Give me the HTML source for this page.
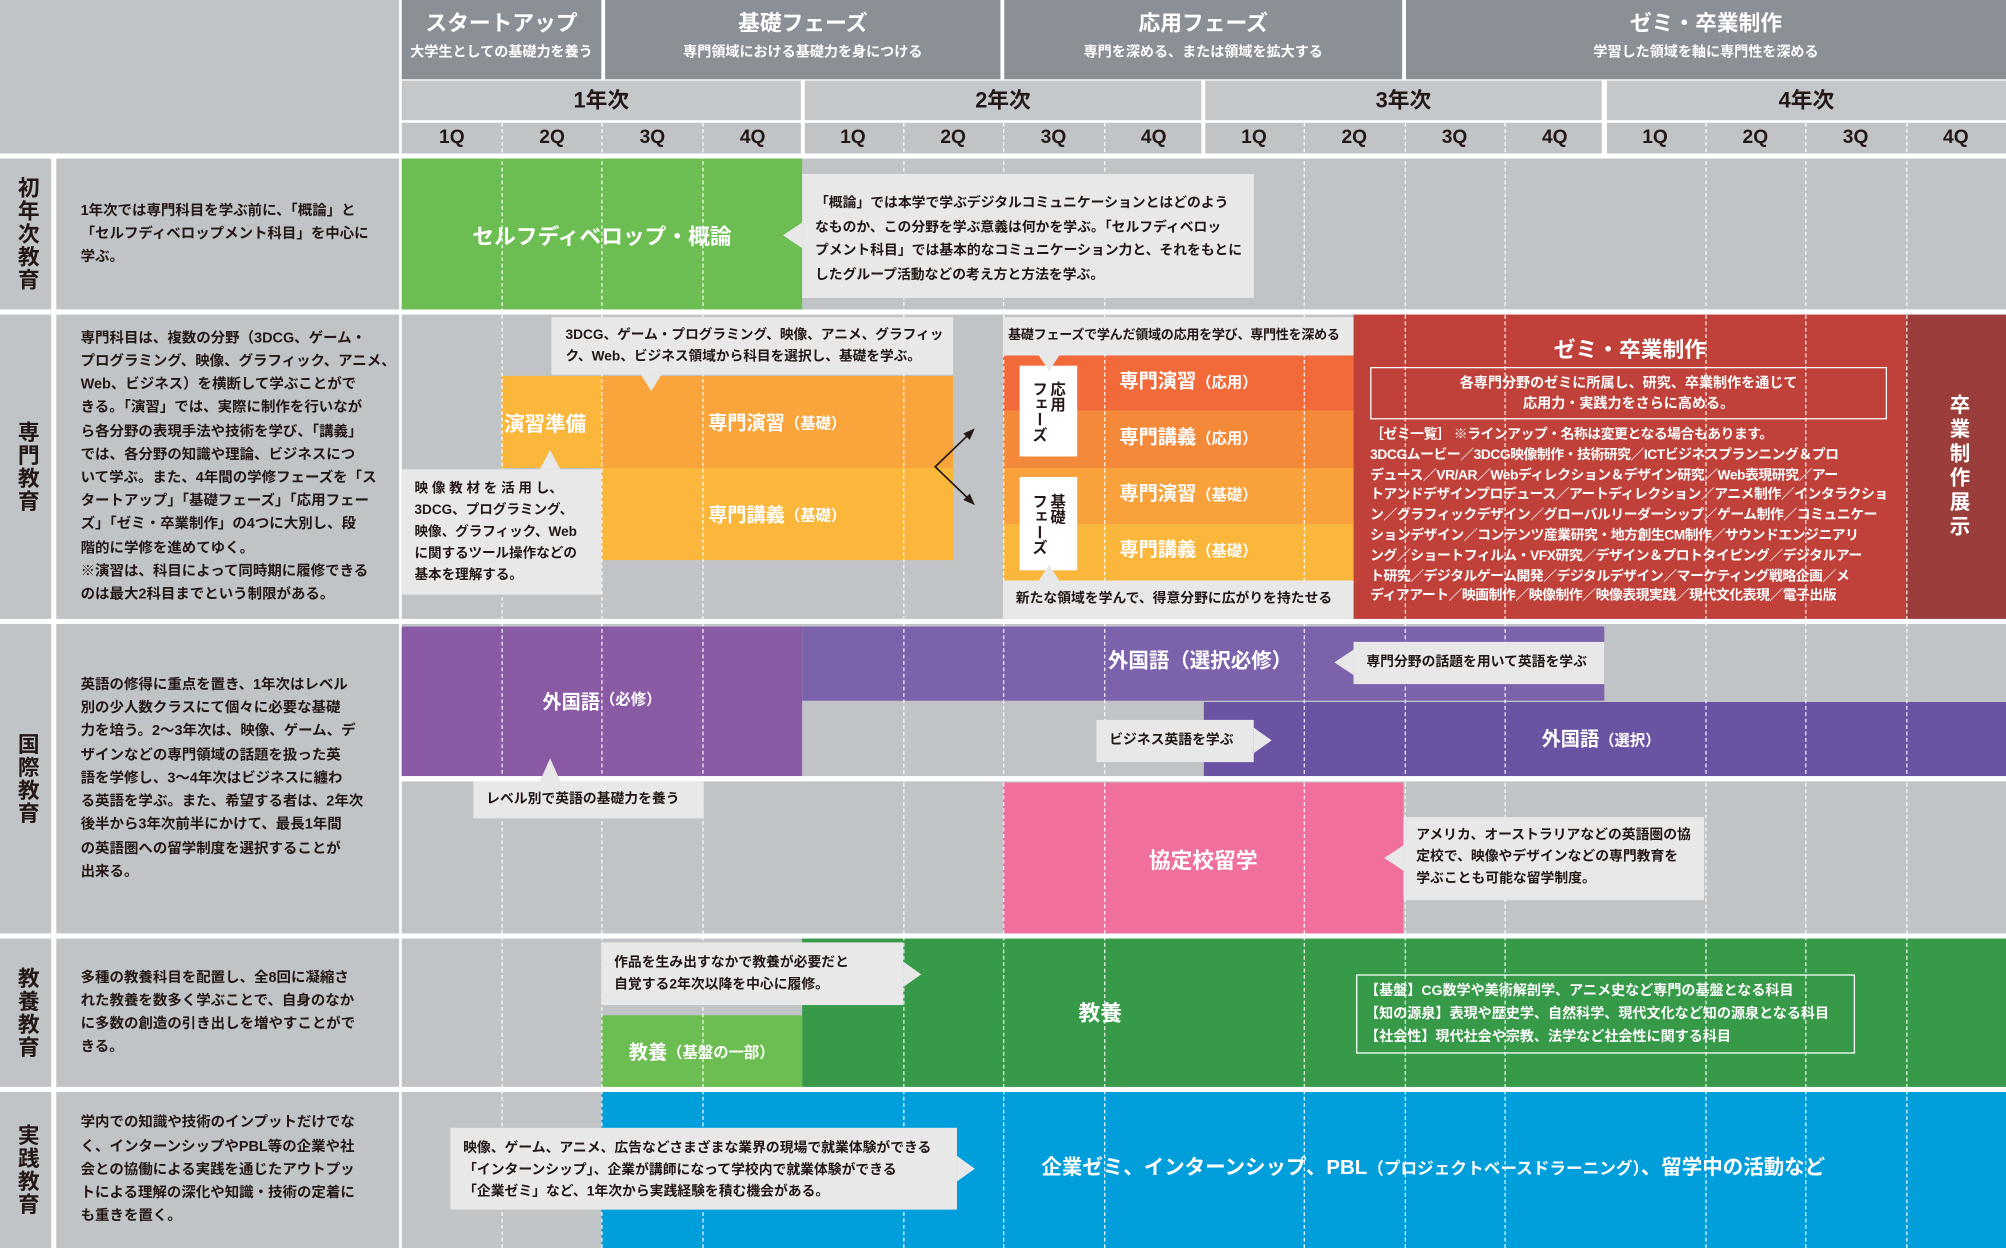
<!DOCTYPE html>
<html><head><meta charset="utf-8"><style>
*{margin:0;padding:0;box-sizing:border-box}
body{width:2006px;height:1248px;overflow:hidden;background:#fff;font-family:"Liberation Sans","Noto Sans CJK JP",sans-serif;font-weight:bold}
#w{position:absolute;left:0;top:0;width:1568px;height:976px;transform:scale(1.27934,1.27869);transform-origin:0 0;background:#fff}
.b{position:absolute}
.g{background:#c1c4c7}
.h{background:#8a9096;color:#fff;text-align:center}
.h .t{font-size:17px;margin-top:8px;line-height:22px}
.h .s{font-size:11px;margin-top:2px}
.yr{background:#c5c8cb;text-align:center;font-size:17px;line-height:31px;color:#231815}
.q{background:#c1c4c7;text-align:center;font-size:15px;line-height:25px;color:#231815}
.lab{background:#c1c4c7;color:#231815;font-size:17px;line-height:20px;letter-spacing:1px;text-align:center;display:flex;align-items:center;justify-content:center;writing-mode:vertical-rl}
.desc{background:#c1c4c7;color:#231815;font-size:11.3px;line-height:18.2px;padding-left:19px;display:flex;align-items:center;white-space:nowrap}
.dl{position:absolute;top:96px;height:880px;width:0;border-left:1px dashed rgba(255,255,255,.9)}
.c{position:absolute;background:#e8e8e8;color:#231815;font-size:11px;line-height:17px;white-space:nowrap}
.wt{color:#fff;display:flex;align-items:center;justify-content:center}
.tri{position:absolute;width:0;height:0}
</style></head><body><div id="w">
<!-- header -->
<div class="b g" style="left:0;top:0;width:312px;height:120px"></div>
<div class="b h" style="left:314px;top:0;width:156px;height:62px"><div class="t">スタートアップ</div><div class="s">大学生としての基礎力を養う</div></div>
<div class="b h" style="left:473px;top:0;width:309px;height:62px"><div class="t">基礎フェーズ</div><div class="s">専門領域における基礎力を身につける</div></div>
<div class="b h" style="left:785px;top:0;width:311px;height:62px"><div class="t">応用フェーズ</div><div class="s">専門を深める、または領域を拡大する</div></div>
<div class="b h" style="left:1099px;top:0;width:469px;height:62px"><div class="t">ゼミ・卒業制作</div><div class="s">学習した領域を軸に専門性を深める</div></div>
<div class="b yr" style="left:314px;top:63px;width:312px;height:31px">1年次</div>
<div class="b yr" style="left:629px;top:63px;width:310px;height:31px">2年次</div>
<div class="b yr" style="left:942px;top:63px;width:310px;height:31px">3年次</div>
<div class="b yr" style="left:1256px;top:63px;width:312px;height:31px">4年次</div>
<div class="b q" style="left:314px;top:96px;width:312px;height:24px"></div>
<div class="b q" style="left:629px;top:96px;width:310px;height:24px"></div>
<div class="b q" style="left:942px;top:96px;width:310px;height:24px"></div>
<div class="b q" style="left:1256px;top:96px;width:312px;height:24px"></div>
<div class="b" style="left:314px;top:96px;width:1254px;height:24px;font-size:15px;line-height:24px;color:#231815;display:flex">
<span style="width:78.4px;text-align:center">1Q</span><span style="width:78.4px;text-align:center">2Q</span><span style="width:78.4px;text-align:center">3Q</span><span style="width:78.4px;text-align:center">4Q</span>
<span style="width:78.4px;text-align:center">1Q</span><span style="width:78.4px;text-align:center">2Q</span><span style="width:78.4px;text-align:center">3Q</span><span style="width:78.4px;text-align:center">4Q</span>
<span style="width:78.4px;text-align:center">1Q</span><span style="width:78.4px;text-align:center">2Q</span><span style="width:78.4px;text-align:center">3Q</span><span style="width:78.4px;text-align:center">4Q</span>
<span style="width:78.4px;text-align:center">1Q</span><span style="width:78.4px;text-align:center">2Q</span><span style="width:78.4px;text-align:center">3Q</span><span style="width:78.4px;text-align:center">4Q</span></div>

<!-- row labels & descriptions -->
<div class="b lab" style="left:0;top:124px;width:40px;height:118px">初年次教育</div>
<div class="b desc" style="left:44px;top:124px;width:268px;height:118px">1年次では専門科目を学ぶ前に、「概論」と<br>「セルフディベロップメント科目」を中心に<br>学ぶ。</div>
<div class="b lab" style="left:0;top:246px;width:40px;height:238px">専門教育</div>
<div class="b desc" style="left:44px;top:246px;width:268px;height:238px"><div>専門科目は、複数の分野（3DCG、ゲーム・<br>プログラミング、映像、グラフィック、アニメ、<br>Web、ビジネス）を横断して学ぶことがで<br>きる。「演習」では、実際に制作を行いなが<br>ら各分野の表現手法や技術を学び、「講義」<br>では、各分野の知識や理論、ビジネスにつ<br>いて学ぶ。また、4年間の学修フェーズを「ス<br>タートアップ」「基礎フェーズ」「応用フェー<br>ズ」「ゼミ・卒業制作」の4つに大別し、段<br>階的に学修を進めてゆく。<br>※演習は、科目によって同時期に履修できる<br>のは最大2科目までという制限がある。</div></div>
<div class="b lab" style="left:0;top:488px;width:40px;height:242px">国際教育</div>
<div class="b desc" style="left:44px;top:488px;width:268px;height:242px"><div>英語の修得に重点を置き、1年次はレベル<br>別の少人数クラスにて個々に必要な基礎<br>力を培う。2〜3年次は、映像、ゲーム、デ<br>ザインなどの専門領域の話題を扱った英<br>語を学修し、3〜4年次はビジネスに纏わ<br>る英語を学ぶ。また、希望する者は、2年次<br>後半から3年次前半にかけて、最長1年間<br>の英語圏への留学制度を選択することが<br>出来る。</div></div>
<div class="b lab" style="left:0;top:734px;width:40px;height:116px">教養教育</div>
<div class="b desc" style="left:44px;top:734px;width:268px;height:116px"><div>多種の教養科目を配置し、全8回に凝縮さ<br>れた教養を数多く学ぶことで、自身のなか<br>に多数の創造の引き出しを増やすことがで<br>きる。</div></div>
<div class="b lab" style="left:0;top:854px;width:40px;height:122px">実践教育</div>
<div class="b desc" style="left:44px;top:854px;width:268px;height:122px"><div>学内での知識や技術のインプットだけでな<br>く、インターンシップやPBL等の企業や社<br>会との協働による実践を通じたアウトプッ<br>トによる理解の深化や知識・技術の定着に<br>も重きを置く。</div></div>

<!-- grid backgrounds -->
<div class="b g" style="left:314px;top:124px;width:1254px;height:118px"></div>
<div class="b g" style="left:314px;top:246px;width:1254px;height:238px"></div>
<div class="b g" style="left:314px;top:488px;width:1254px;height:119px"></div>
<div class="b g" style="left:314px;top:611px;width:1254px;height:119px"></div>
<div class="b g" style="left:314px;top:734px;width:1254px;height:116px"></div>
<div class="b g" style="left:314px;top:854px;width:1254px;height:122px"></div>

<!-- row1 -->
<div class="b wt" style="left:314px;top:124px;width:313px;height:118px;background:#6dbe52;font-size:17px">セルフディベロップ・概論</div>

<!-- row2 -->
<div class="b wt" style="left:392px;top:294px;width:78px;height:72px;background:#fbb73c;font-size:16px;justify-content:flex-start;align-items:flex-start;padding-top:24px;padding-left:2px">演習準備</div>
<div class="b wt" style="left:470px;top:294px;width:275px;height:72px;background:#f9a53b;font-size:15px">専門演習<span style="font-size:12px">（基礎）</span></div>
<div class="b wt" style="left:470px;top:366px;width:275px;height:72px;background:#fbb73c;font-size:15px">専門講義<span style="font-size:12px">（基礎）</span></div>
<div class="b" style="left:784px;top:278px;width:274px;height:43px;background:#f26a3a"></div>
<div class="b" style="left:784px;top:321px;width:274px;height:45px;background:#f5893a"></div>
<div class="b" style="left:784px;top:366px;width:274px;height:44px;background:#f9a13b"></div>
<div class="b" style="left:784px;top:410px;width:274px;height:44px;background:#fbb73c"></div>
<div class="b" style="left:1058px;top:246px;width:432px;height:238px;background:#c0413a"></div>
<div class="b wt" style="left:1490px;top:246px;width:78px;height:238px;background:#9a3d3b;font-size:16px;writing-mode:vertical-rl;line-height:20px;letter-spacing:3px">卒業制作展示</div>

<!-- row3 -->
<div class="b wt" style="left:314px;top:490px;width:313px;height:117px;background:#8b5aa5;font-size:15px;align-items:flex-start;padding-top:48px">外国語<span style="font-size:12px">（必修）</span></div>
<div class="b" style="left:627px;top:490px;width:627px;height:58px;background:#7b62aa"></div>
<div class="b" style="left:941px;top:549px;width:627px;height:58px;background:#6a53a3"></div>
<div class="b wt" style="left:784px;top:612px;width:313px;height:118px;background:#f06f9c;font-size:17px">協定校留学</div>

<!-- row4 -->
<div class="b" style="left:627px;top:734px;width:941px;height:116px;background:#379a48"></div>
<div class="b wt" style="left:470px;top:794px;width:157px;height:56px;background:#6dbe52;font-size:15px">教養<span style="font-size:12px">（基盤の一部）</span></div>
<!-- row5 -->
<div class="b" style="left:470px;top:854px;width:1098px;height:122px;background:#009fdb"></div>

<!-- dashed lines -->
<div class="dl" style="left:392px"></div><div class="dl" style="left:470px"></div><div class="dl" style="left:549px"></div>
<div class="dl" style="left:706px"></div><div class="dl" style="left:784px"></div><div class="dl" style="left:863px"></div>
<div class="dl" style="left:1019px"></div><div class="dl" style="left:1098px"></div><div class="dl" style="left:1176px"></div>
<div class="dl" style="left:1333px"></div><div class="dl" style="left:1411px"></div><div class="dl" style="left:1490px"></div>
<!-- year separators -->
<div class="b" style="left:627px;top:63px;width:2px;height:57px;background:#fff"></div>
<div class="b" style="left:940px;top:63px;width:2px;height:57px;background:#fff"></div>
<div class="b" style="left:1254px;top:63px;width:2px;height:57px;background:#fff"></div>
<div class="b" style="left:314px;top:607px;width:1254px;height:4px;background:#fff"></div>

<!-- texts over blocks -->
<div class="b" style="left:784px;top:288px;width:274px;font-size:15px;color:#fff;line-height:22px;padding-left:91px">専門演習<span style="font-size:12px">（応用）</span></div>
<div class="b" style="left:784px;top:332px;width:274px;font-size:15px;color:#fff;line-height:22px;padding-left:91px">専門講義<span style="font-size:12px">（応用）</span></div>
<div class="b" style="left:784px;top:376px;width:274px;font-size:15px;color:#fff;line-height:22px;padding-left:91px">専門演習<span style="font-size:12px">（基礎）</span></div>
<div class="b" style="left:784px;top:420px;width:274px;font-size:15px;color:#fff;line-height:22px;padding-left:91px">専門講義<span style="font-size:12px">（基礎）</span></div>
<div class="b" style="left:797px;top:286px;width:45px;height:71px;background:#fff;color:#231815;font-size:12px;line-height:14px;writing-mode:vertical-rl;display:flex;align-items:center;justify-content:center">応用<br>フェーズ</div>
<div class="b" style="left:797px;top:373px;width:45px;height:73px;background:#fff;color:#231815;font-size:12px;line-height:14px;writing-mode:vertical-rl;display:flex;align-items:center;justify-content:center">基礎<br>フェーズ</div>
<div class="b wt" style="left:1058px;top:258px;width:432px;height:26px;font-size:17px">ゼミ・卒業制作</div>
<div class="b wt" style="left:1071px;top:287px;width:404px;height:41px;border:1px solid #fff;font-size:11px;line-height:16px;text-align:center">各専門分野のゼミに所属し、研究、卒業制作を通じて<br>応用力・実践力をさらに高める。</div>
<div class="b" style="left:1071px;top:333px;width:412px;color:#fff;font-size:10.8px;letter-spacing:-0.35px;line-height:15.8px;white-space:nowrap">［ゼミ一覧］ ※ラインアップ・名称は変更となる場合もあります。<br>3DCGムービー／3DCG映像制作・技術研究／ICTビジネスプランニング＆プロ<br>デュース／VR/AR／Webディレクション＆デザイン研究／Web表現研究／アー<br>トアンドデザインプロデュース／アートディレクション／アニメ制作／インタラクショ<br>ン／グラフィックデザイン／グローバルリーダーシップ／ゲーム制作／コミュニケー<br>ションデザイン／コンテンツ産業研究・地方創生CM制作／サウンドエンジニアリ<br>ング／ショートフィルム・VFX研究／デザイン＆プロトタイピング／デジタルアー<br>ト研究／デジタルゲーム開発／デジタルデザイン／マーケティング戦略企画／メ<br>ディアアート／映画制作／映像制作／映像表現実践／現代文化表現／電子出版</div>
<div class="b" style="left:866px;top:507px;font-size:16px;color:#fff;line-height:22px">外国語<span>（選択必修）</span></div>
<div class="b" style="left:1205px;top:568px;font-size:15px;color:#fff;line-height:22px">外国語<span style="font-size:12px">（選択）</span></div>
<div class="b" style="left:843px;top:782px;font-size:17px;color:#fff;line-height:22px">教養</div>
<div class="b" style="left:1060px;top:762px;width:390px;height:62px;border:1px solid #fff;color:#fff;font-size:11px;line-height:18px;padding:3px 0 0 6px;white-space:nowrap">【基盤】CG数学や美術解剖学、アニメ史など専門の基盤となる科目<br>【知の源泉】表現や歴史学、自然科学、現代文化など知の源泉となる科目<br>【社会性】現代社会や宗教、法学など社会性に関する科目</div>
<div class="b" style="left:814px;top:903px;font-size:16px;color:#fff;line-height:22px;white-space:nowrap">企業ゼミ、インターンシップ、PBL<span style="font-size:13px">（プロジェクトベースドラーニング）</span>、留学中の活動など</div>

<!-- arrows -->
<svg class="b" style="left:720px;top:330px" width="50" height="70"><path d="M40 7 L11 35 L40 63" fill="none" stroke="#231815" stroke-width="1.3"/><path d="M42 5 L33 9 L38 14Z M42 65 L33 61 L38 56Z" fill="#231815"/></svg>

<!-- callouts -->
<div class="c" style="left:627px;top:136px;width:353px;height:97px;padding:14px 0 0 10px;line-height:18.5px;font-size:10.8px">「概論」では本学で学ぶデジタルコミュニケーションとはどのよう<br>なものか、この分野を学ぶ意義は何かを学ぶ。「セルフディベロッ<br>プメント科目」では基本的なコミュニケーション力と、それをもとに<br>したグループ活動などの考え方と方法を学ぶ。</div>
<div class="tri" style="left:612px;top:174px;border-right:15px solid #e8e8e8;border-top:10px solid transparent;border-bottom:10px solid transparent"></div>
<div class="c" style="left:431px;top:248px;width:314px;height:45px;padding:6px 0 0 11px;font-size:10.7px">3DCG、ゲーム・プログラミング、映像、アニメ、グラフィッ<br>ク、Web、ビジネス領域から科目を選択し、基礎を学ぶ。</div>
<div class="tri" style="left:501px;top:293px;border-top:13px solid #e8e8e8;border-left:8px solid transparent;border-right:8px solid transparent"></div>
<div class="c" style="left:314px;top:367px;width:156px;height:98px;padding:7px 0 0 10px;font-size:10.6px">映 像 教 材 を 活 用 し、<br>3DCG、プログラミング、<br>映像、グラフィック、Web<br>に関するツール操作などの<br>基本を理解する。</div>
<div class="tri" style="left:422px;top:352px;border-bottom:15px solid #e8e8e8;border-left:8px solid transparent;border-right:8px solid transparent"></div>
<div class="c" style="left:784px;top:248px;width:274px;height:30px;padding:6px 0 0 4px;font-size:10.2px;letter-spacing:-0.2px">基礎フェーズで学んだ領域の応用を学び、専門性を深める</div>
<div class="tri" style="left:812px;top:278px;border-top:12px solid #e8e8e8;border-left:8px solid transparent;border-right:8px solid transparent"></div>
<div class="c" style="left:784px;top:454px;width:274px;height:30px;padding:6px 0 0 10px;font-size:10.8px">新たな領域を学んで、得意分野に広がりを持たせる</div>
<div class="tri" style="left:812px;top:442px;border-bottom:12px solid #e8e8e8;border-left:8px solid transparent;border-right:8px solid transparent"></div>
<div class="c" style="left:1058px;top:502px;width:196px;height:33px;padding:8px 0 0 10px;font-size:10.8px">専門分野の話題を用いて英語を学ぶ</div>
<div class="tri" style="left:1043px;top:508px;border-right:15px solid #e8e8e8;border-top:10px solid transparent;border-bottom:10px solid transparent"></div>
<div class="c" style="left:857px;top:563px;width:123px;height:33px;padding:8px 0 0 10px;font-size:10.8px">ビジネス英語を学ぶ</div>
<div class="tri" style="left:980px;top:569px;border-left:14px solid #e8e8e8;border-top:10px solid transparent;border-bottom:10px solid transparent"></div>
<div class="c" style="left:370px;top:611px;width:180px;height:29px;padding:6px 0 0 10px;font-size:10.8px">レベル別で英語の基礎力を養う</div>
<div class="tri" style="left:422px;top:593px;border-bottom:18px solid #e8e8e8;border-left:8px solid transparent;border-right:8px solid transparent"></div>
<div class="c" style="left:1097px;top:639px;width:235px;height:65px;padding:6px 0 0 10px;font-size:10.8px">アメリカ、オーストラリアなどの英語圏の協<br>定校で、映像やデザインなどの専門教育を<br>学ぶことも可能な留学制度。</div>
<div class="tri" style="left:1082px;top:661px;border-right:15px solid #e8e8e8;border-top:10px solid transparent;border-bottom:10px solid transparent"></div>
<div class="c" style="left:470px;top:737px;width:236px;height:49px;padding:8px 0 0 10px;font-size:10.8px">作品を生み出すなかで教養が必要だと<br>自覚する2年次以降を中心に履修。</div>
<div class="tri" style="left:706px;top:752px;border-left:14px solid #e8e8e8;border-top:10px solid transparent;border-bottom:10px solid transparent"></div>
<div class="c" style="left:352px;top:882px;width:396px;height:64px;padding:8px 0 0 10px;font-size:10.8px">映像、ゲーム、アニメ、広告などさまざまな業界の現場で就業体験ができる<br>「インターンシップ」、企業が講師になって学校内で就業体験ができる<br>「企業ゼミ」など、1年次から実践経験を積む機会がある。</div>
<div class="tri" style="left:748px;top:904px;border-left:14px solid #e8e8e8;border-top:10px solid transparent;border-bottom:10px solid transparent"></div>
</div></body></html>
